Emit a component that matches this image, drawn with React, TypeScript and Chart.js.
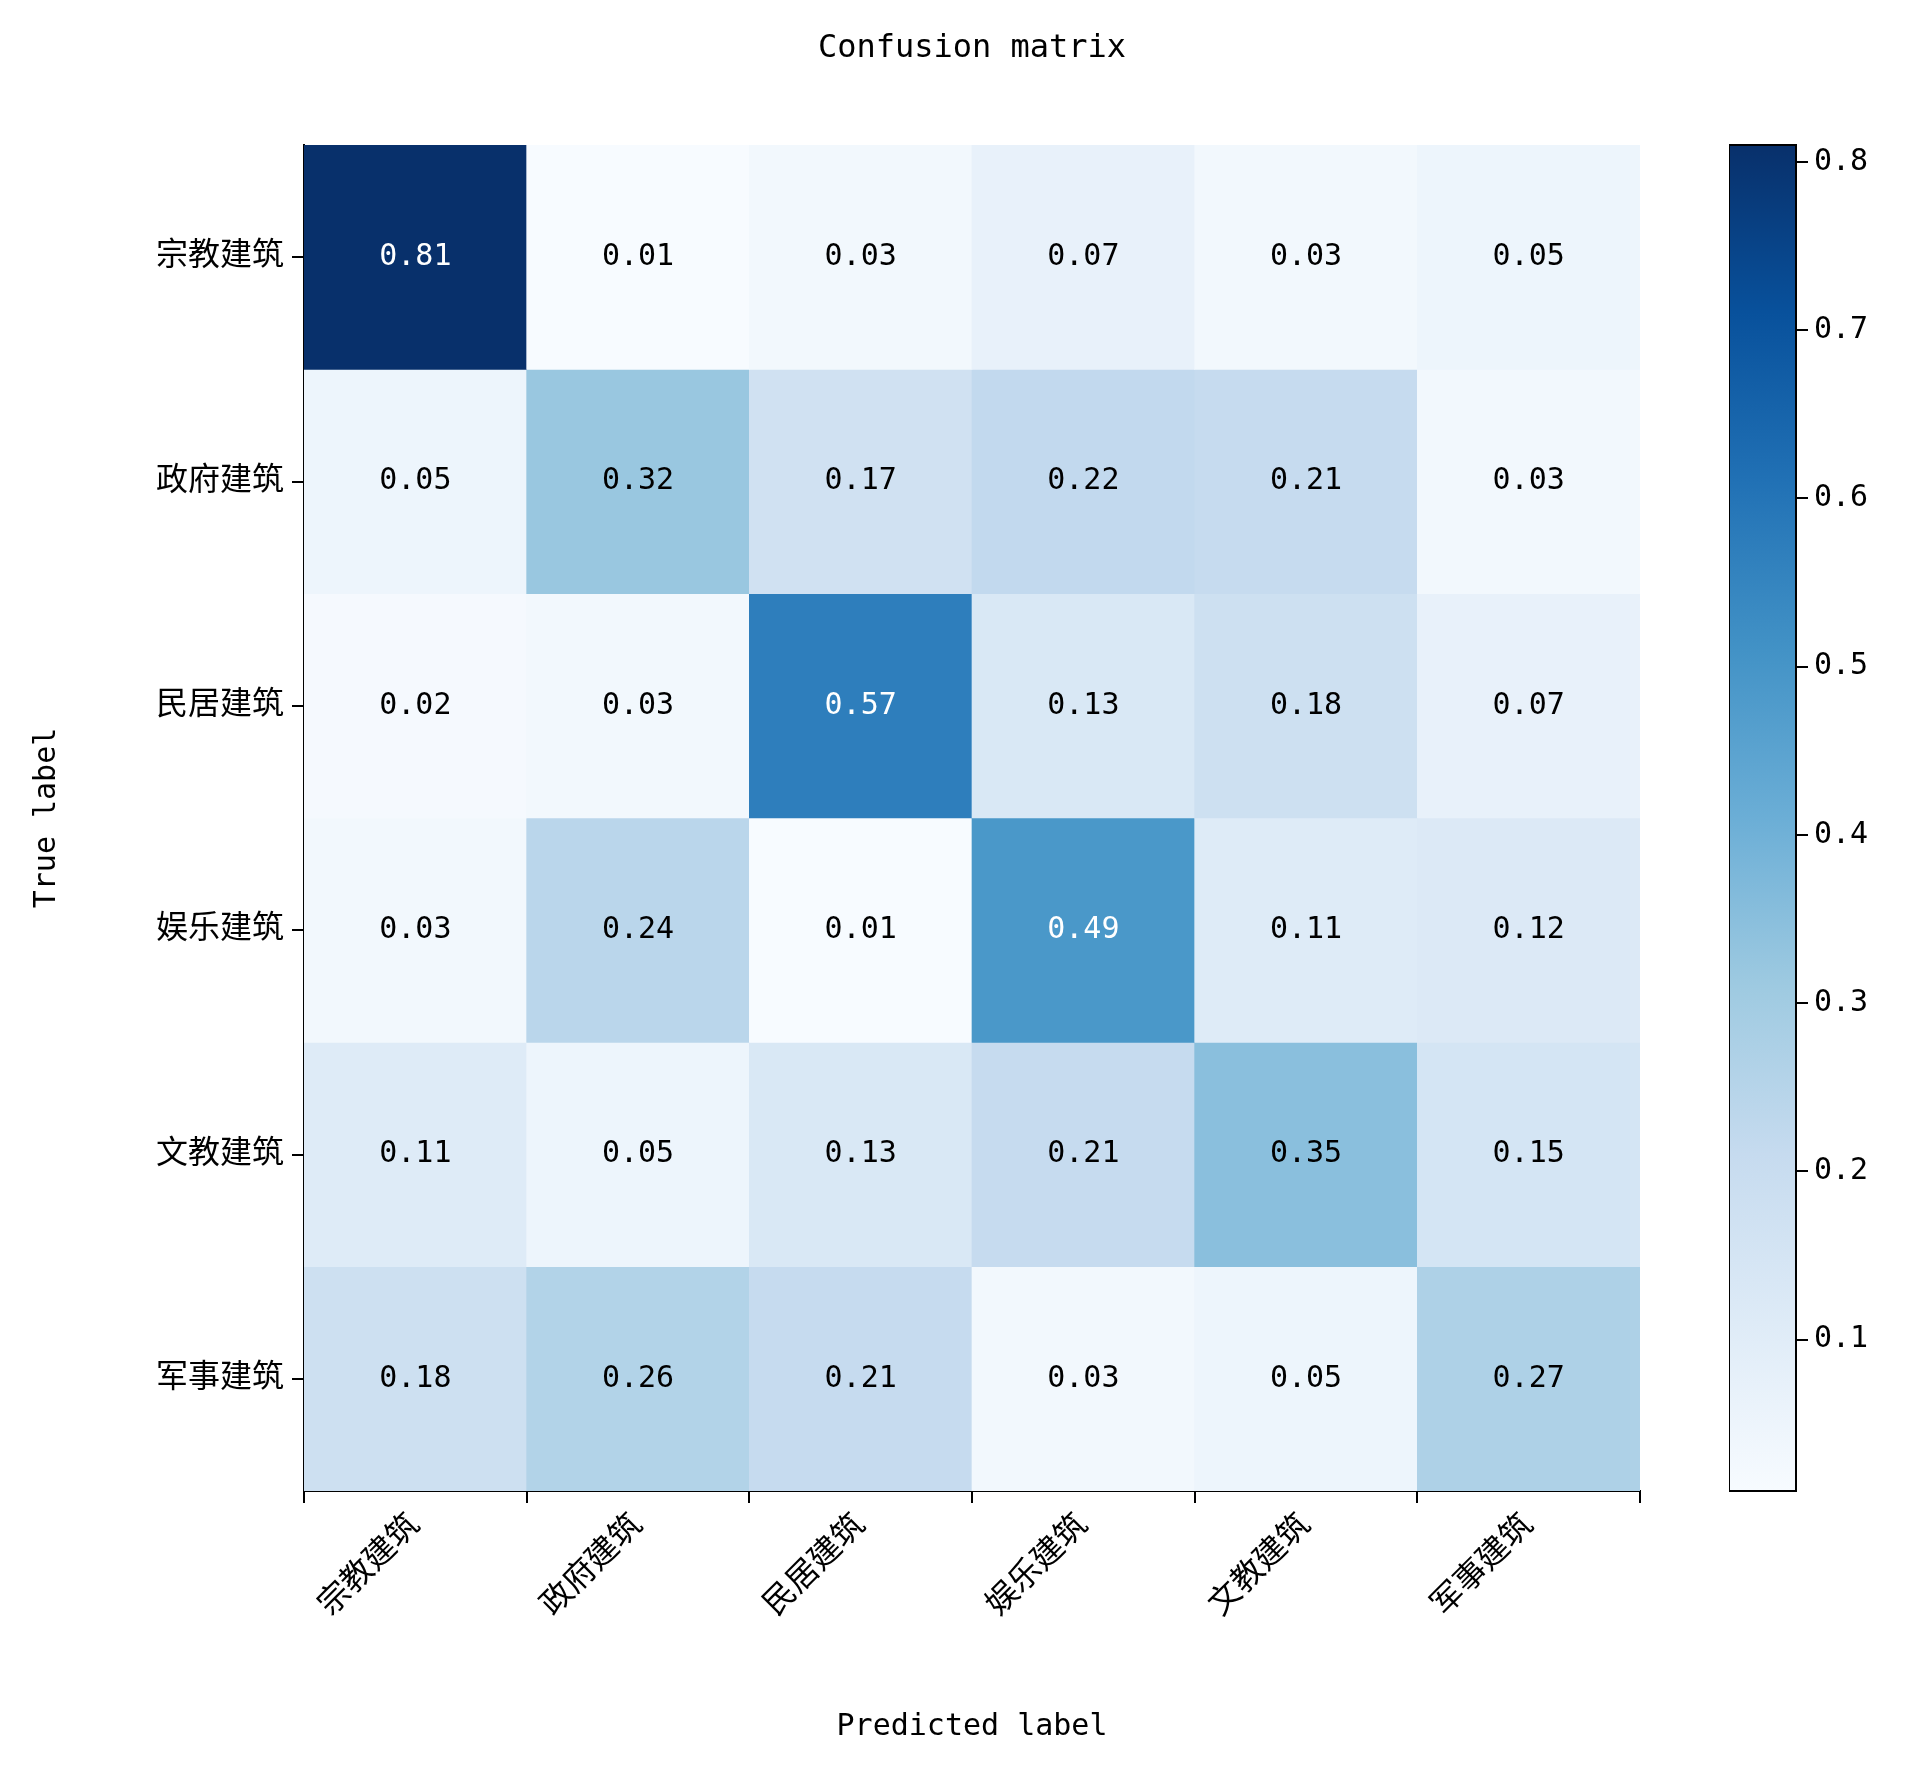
import { Chart, registerables } from 'chart.js';
import { useEffect, useRef } from 'react';

Chart.register(...registerables);

const classes = ['宗教建筑', '政府建筑', '民居建筑', '娱乐建筑', '文教建筑', '军事建筑'];
const row0 = [0.81, 0.01, 0.03, 0.07, 0.03, 0.05];
const row1 = [0.05, 0.32, 0.17, 0.22, 0.21, 0.03];
const row2 = [0.02, 0.03, 0.57, 0.13, 0.18, 0.07];
const row3 = [0.03, 0.24, 0.01, 0.49, 0.11, 0.12];
const row4 = [0.11, 0.05, 0.13, 0.21, 0.35, 0.15];
const row5 = [0.18, 0.26, 0.21, 0.03, 0.05, 0.27];
const rows = [row0, row1, row2, row3, row4, row5];
const cbTicks = [0.1, 0.2, 0.3, 0.4, 0.5, 0.6, 0.7, 0.8];
const vmin = 0.01;
const vmax = 0.81;

const FONT = "'DejaVu Sans Mono', 'Noto Sans CJK SC', monospace";
const BLUES = ['#f7fbff', '#deebf7', '#c6dbef', '#9ecae1', '#6baed6', '#4292c6', '#2171b5', '#08519c', '#08306b'];

function hex(h: string) {
  return [1, 3, 5].map((i) => parseInt(h.slice(i, i + 2), 16));
}
function blues(t: number) {
  t = Math.max(0, Math.min(1, t));
  const p = t * 8;
  const i = Math.min(7, Math.floor(p));
  const f = p - i;
  const a = hex(BLUES[i]);
  const b = hex(BLUES[i + 1]);
  const c = a.map((v, k) => Math.round(v + (b[k] - v) * f));
  return `rgb(${c[0]},${c[1]},${c[2]})`;
}
const norm = (v: number) => (v - vmin) / (vmax - vmin);

function App() {
  const mainRef = useRef<HTMLCanvasElement | null>(null);
  const cbRef = useRef<HTMLCanvasElement | null>(null);

  useEffect(() => {
    const labelsPlugin = {
      id: 'cellLabels',
      afterDatasetsDraw(chart: any) {
        const ctx = chart.ctx;
        const xs = chart.scales.x;
        const ys = chart.scales.y;
        ctx.save();
        ctx.font = `30px ${FONT}`;
        ctx.textAlign = 'center';
        ctx.textBaseline = 'middle';
        rows.forEach((r, i) =>
          r.forEach((v, j) => {
            ctx.fillStyle = v > vmax / 2 ? '#ffffff' : '#000000';
            ctx.fillText(v.toFixed(2), xs.getPixelForValue(j), ys.getPixelForValue(i + 0.5));
          }),
        );
        ctx.fillStyle = '#000';
        ctx.font = `32px ${FONT}`;
        ctx.fillText('Confusion matrix', (xs.left + xs.right) / 2, 49);
        ctx.font = `30px ${FONT}`;
        ctx.fillText('Predicted label', (xs.left + xs.right) / 2, 1727);
        ctx.translate(47, (ys.top + ys.bottom) / 2);
        ctx.rotate(-Math.PI / 2);
        ctx.fillText('True label', 0, 0);
        ctx.restore();
      },
    };

    const chart = new Chart(mainRef.current as HTMLCanvasElement, {
      type: 'bar',
      data: {
        labels: classes,
        datasets: rows.map((r, i) => ({
          data: r.map(() => [i, i + 1]) as any,
          backgroundColor: r.map((v) => blues(norm(v))),
          borderWidth: 0,
          barPercentage: 1,
          categoryPercentage: 1,
          grouped: false,
        })),
      },
      options: {
        animation: false,
        responsive: false,
        layout: { padding: { left: 0, top: 145, right: 277, bottom: 0 } },
        plugins: { legend: { display: false }, tooltip: { enabled: false }, title: { display: false } },
        scales: {
          x: {
            afterFit: (s: any) => { s.height = 274; },
            grid: { drawOnChartArea: false, tickLength: 12, tickColor: '#000', lineWidth: 2 },
            border: { color: '#000', width: 2 },
            ticks: { color: '#000', font: { size: 32, family: FONT }, minRotation: 45, maxRotation: 45, padding: 4 },
          },
          y: {
            min: 0,
            max: 6,
            reverse: true,
            afterFit: (s: any) => { s.width = 304; },
            afterBuildTicks: (s: any) => { s.ticks = classes.map((_, i) => ({ value: i + 0.5 })); },
            grid: { drawOnChartArea: false, tickLength: 12, tickColor: '#000', lineWidth: 2 },
            border: { color: '#000', width: 2 },
            ticks: {
              color: '#000',
              font: { size: 32, family: FONT },
              padding: 8,
              callback: (v: any) => classes[Math.floor(Number(v))],
            },
          },
        },
      },
      plugins: [labelsPlugin],
    });

    const gradPlugin = {
      id: 'gradient',
      beforeDatasetsDraw(c: any) {
        const { left, right, top, bottom } = c.chartArea;
        const g = c.ctx.createLinearGradient(0, bottom, 0, top);
        BLUES.forEach((col, i) => g.addColorStop(i / 8, col));
        c.ctx.save();
        c.ctx.fillStyle = g;
        c.ctx.fillRect(left, top, right - left, bottom - top);
        c.ctx.strokeStyle = '#000';
        c.ctx.lineWidth = 2;
        c.ctx.strokeRect(left, top, right - left, bottom - top);
        c.ctx.restore();
      },
    };

    const cb = new Chart(cbRef.current as HTMLCanvasElement, {
      type: 'bar',
      data: { labels: [''], datasets: [{ data: [] }] },
      options: {
        animation: false,
        responsive: false,
        layout: { padding: { left: 0, top: 145, right: 0, bottom: 274 } },
        plugins: { legend: { display: false }, tooltip: { enabled: false } },
        scales: {
          x: { display: false },
          y: {
            position: 'right',
            min: vmin,
            max: vmax,
            afterFit: (s: any) => { s.width = 121; },
            afterBuildTicks: (s: any) => { s.ticks = cbTicks.map((v) => ({ value: v })); },
            grid: { drawOnChartArea: false, tickLength: 12, tickColor: '#000', lineWidth: 2 },
            border: { display: false },
            ticks: { color: '#000', font: { size: 30, family: FONT }, padding: 6, callback: (v: any) => Number(v).toFixed(1) },
          },
        },
      },
      plugins: [gradPlugin],
    });

    return () => {
      chart.destroy();
      cb.destroy();
    };
  }, []);

  return (
    <div style={{ position: 'fixed', left: 0, top: 0, width: 1917, height: 1765, background: '#fff' }}>
      <canvas ref={mainRef} width={1917} height={1765} style={{ position: 'absolute', left: 0, top: 0 }} />
      <canvas ref={cbRef} width={188} height={1765} style={{ position: 'absolute', left: 1729, top: 0 }} />
    </div>
  );
}

export default App;
